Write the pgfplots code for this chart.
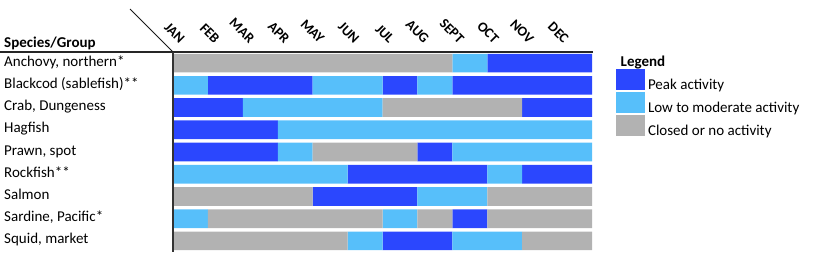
\documentclass[border=0pt]{standalone}
\usepackage{pgfplots}
\pgfplotsset{compat=1.18}
\usepackage{fontspec}
\setmainfont{Carlito}
\definecolor{peak}{RGB}{43,71,254}
\definecolor{lowmod}{RGB}{87,191,250}
\definecolor{closed}{RGB}{178,178,178}
\begin{document}
\begin{tikzpicture}
\path[use as bounding box] (0,0) rectangle (825bp,-257bp);
\begin{axis}[
  at={(173bp,-252bp)}, anchor=south west,
  scale only axis, width=419bp, height=200bp,
  xmin=0, xmax=12, ymin=0.5, ymax=9.5, y dir=reverse,
  enlargelimits=false, clip=false,
  axis line style={draw=none}, major tick length=0pt,
  xtick={0.5,1.5,...,11.5},
  xticklabels={JAN,FEB,MAR,APR,MAY,JUN,JUL,AUG,SEPT,OCT,NOV,DEC},
  xticklabel pos=upper,
  xticklabel style={font=\fontsize{14bp}{16bp}\selectfont\bfseries, inner sep=0pt, xshift=-8bp, yshift=11bp, rotate=-45, anchor=east},
  ytick={1,...,9},
  yticklabels={{Anchovy, northern*},{Blackcod (sablefish)**},{Crab, Dungeness},Hagfish,{Prawn, spot},Rockfish**,Salmon,{Sardine, Pacific*},{Squid, market}},
  yticklabel style={font=\fontsize{15bp}{17bp}\selectfont, anchor=base west, inner sep=0pt, xshift=-169bp, yshift=-3bp},
  unbounded coords=jump,
  legend style={at={(1.0573,0.913)}, anchor=north west, draw=none, fill=none, inner sep=0pt, outer sep=0pt, row sep=1.5bp, column sep=3bp, nodes={inner sep=0pt}, font=\fontsize{15bp}{17bp}\selectfont},
  legend cell align=left,
  legend image code/.code={\fill[#1] (0bp,-5.5bp) rectangle (29bp,15.5bp);},
]
% Peak activity
\addplot[fill=peak, draw=none] coordinates {
 (9,0.58) (12,0.58) (12,1.42) (9,1.42) (nan,nan)
 (1,1.58) (4,1.58) (4,2.42) (1,2.42) (nan,nan)
 (6,1.58) (7,1.58) (7,2.42) (6,2.42) (nan,nan)
 (8,1.58) (12,1.58) (12,2.42) (8,2.42) (nan,nan)
 (0,2.58) (2,2.58) (2,3.42) (0,3.42) (nan,nan)
 (10,2.58) (12,2.58) (12,3.42) (10,3.42) (nan,nan)
 (0,3.58) (3,3.58) (3,4.42) (0,4.42) (nan,nan)
 (0,4.58) (3,4.58) (3,5.42) (0,5.42) (nan,nan)
 (7,4.58) (8,4.58) (8,5.42) (7,5.42) (nan,nan)
 (5,5.58) (9,5.58) (9,6.42) (5,6.42) (nan,nan)
 (10,5.58) (12,5.58) (12,6.42) (10,6.42) (nan,nan)
 (4,6.58) (7,6.58) (7,7.42) (4,7.42) (nan,nan)
 (8,7.58) (9,7.58) (9,8.42) (8,8.42) (nan,nan)
 (6,8.58) (8,8.58) (8,9.42) (6,9.42)
};
\addlegendentry{Peak activity}
% Low to moderate activity
\addplot[fill=lowmod, draw=none] coordinates {
 (8,0.58) (9,0.58) (9,1.42) (8,1.42) (nan,nan)
 (0,1.58) (1,1.58) (1,2.42) (0,2.42) (nan,nan)
 (4,1.58) (6,1.58) (6,2.42) (4,2.42) (nan,nan)
 (7,1.58) (8,1.58) (8,2.42) (7,2.42) (nan,nan)
 (2,2.58) (6,2.58) (6,3.42) (2,3.42) (nan,nan)
 (3,3.58) (12,3.58) (12,4.42) (3,4.42) (nan,nan)
 (3,4.58) (4,4.58) (4,5.42) (3,5.42) (nan,nan)
 (8,4.58) (12,4.58) (12,5.42) (8,5.42) (nan,nan)
 (0,5.58) (5,5.58) (5,6.42) (0,6.42) (nan,nan)
 (9,5.58) (10,5.58) (10,6.42) (9,6.42) (nan,nan)
 (7,6.58) (9,6.58) (9,7.42) (7,7.42) (nan,nan)
 (0,7.58) (1,7.58) (1,8.42) (0,8.42) (nan,nan)
 (6,7.58) (7,7.58) (7,8.42) (6,8.42) (nan,nan)
 (5,8.58) (6,8.58) (6,9.42) (5,9.42) (nan,nan)
 (8,8.58) (10,8.58) (10,9.42) (8,9.42)
};
\addlegendentry{Low to moderate activity}
% Closed or no activity
\addplot[fill=closed, draw=none] coordinates {
 (0,0.58) (8,0.58) (8,1.42) (0,1.42) (nan,nan)
 (6,2.58) (10,2.58) (10,3.42) (6,3.42) (nan,nan)
 (4,4.58) (7,4.58) (7,5.42) (4,5.42) (nan,nan)
 (0,6.58) (4,6.58) (4,7.42) (0,7.42) (nan,nan)
 (9,6.58) (12,6.58) (12,7.42) (9,7.42) (nan,nan)
 (1,7.58) (6,7.58) (6,8.42) (1,8.42) (nan,nan)
 (7,7.58) (8,7.58) (8,8.42) (7,8.42) (nan,nan)
 (9,7.58) (12,7.58) (12,8.42) (9,8.42) (nan,nan)
 (0,8.58) (5,8.58) (5,9.42) (0,9.42) (nan,nan)
 (10,8.58) (12,8.58) (12,9.42) (10,9.42)
};
\addlegendentry{Closed or no activity}
\end{axis}
\draw[line width=1.8bp, black!85] (0,-52bp) -- (592.5bp,-52bp);
\draw[line width=1.2bp, black!80] (173bp,-52bp) -- (173bp,-252bp);
\draw[line width=1bp, black!90] (130bp,-9bp) -- (173bp,-52bp);
\node[anchor=base west, inner sep=0pt, font=\fontsize{15bp}{17bp}\selectfont\bfseries] at (4bp,-47.5bp) {Species/Group};
\node[anchor=base west, inner sep=0pt, font=\fontsize{15bp}{17bp}\selectfont\bfseries] at (620.5bp,-66bp) {Legend};
\end{tikzpicture}
\end{document}
